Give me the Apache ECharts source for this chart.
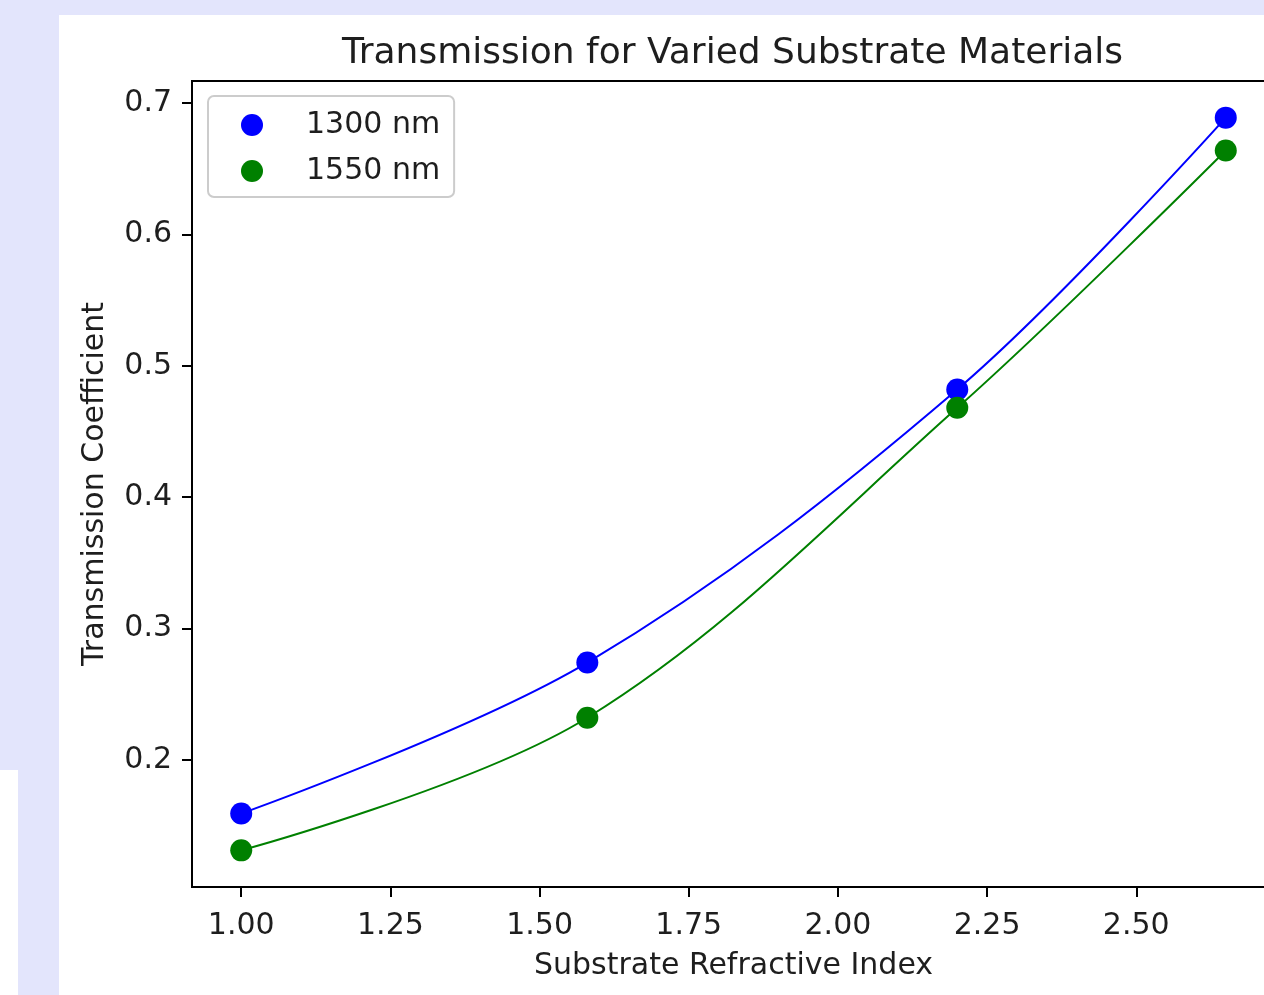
<!DOCTYPE html>
<html>
<head>
<meta charset="utf-8">
<script src="https://cdn.jsdelivr.net/npm/echarts@6/dist/echarts.min.js"></script>
<style>
  html, body { margin: 0; padding: 0; width: 1264px; height: 995px; overflow: hidden; background: #e3e5fc; }
  #patch { position: absolute; left: 0; top: 770px; width: 18px; height: 225px; background: #ffffff; }
  #chart { position: absolute; left: 59px; top: 15px; width: 1231px; height: 980px; background: #ffffff; }
</style>
</head>
<body>
<div id="patch"></div>
<div id="chart"></div>
<script>
const titleText = 'Transmission for Varied Substrate Materials';
const xLabel = 'Substrate Refractive Index';
const yLabel = 'Transmission Coefficient';
const refractiveIndex = [1.00, 1.58, 2.20, 2.65];
const seriesNames = ['1300 nm', '1550 nm'];
const trans1300 = [0.159, 0.274, 0.482, 0.689];
const trans1550 = [0.131, 0.232, 0.468, 0.664];
const xTicks = [1.00, 1.25, 1.50, 1.75, 2.00, 2.25, 2.50];
const yTicks = [0.2, 0.3, 0.4, 0.5, 0.6, 0.7];
const colors = ['#0000ff', '#008000'];

const font = 'DejaVu Sans';
const pairs = (ys) => refractiveIndex.map((x, i) => [x, ys[i]]);
const allY = trans1300.concat(trans1550);
const xMin = Math.min(...refractiveIndex), xMax = Math.max(...refractiveIndex);
const yMin = Math.min(...allY), yMax = Math.max(...allY);
const xPad = (xMax - xMin) * 0.05, yPad = (yMax - yMin) * 0.05;

const chart = echarts.init(document.getElementById('chart'), null, { renderer: 'canvas' });
const dataSets = [trans1300, trans1550];
const series = [];
dataSets.forEach((ys, i) => {
  series.push({
    name: seriesNames[i] + ' curve', type: 'line', data: pairs(ys), smooth: 0.35,
    showSymbol: false, lineStyle: { color: colors[i], width: 2 }, z: 2, silent: true
  });
});
dataSets.forEach((ys, i) => {
  series.push({
    name: seriesNames[i], type: 'scatter', data: pairs(ys), symbol: 'circle', symbolSize: 22,
    itemStyle: { color: colors[i], opacity: 1 }, z: 3
  });
});

chart.setOption({
  animation: false,
  backgroundColor: '#ffffff',
  title: {
    text: titleText, left: 278, top: 16,
    textStyle: { fontFamily: font, fontSize: 36, fontWeight: 'normal', color: '#1e1e1e' }
  },
  legend: {
    data: seriesNames, orient: 'vertical', left: 149, top: 81,
    icon: 'circle', itemWidth: 22, itemHeight: 22, itemGap: 16,
    padding: [14, 14, 11, 33],
    backgroundColor: '#ffffff', borderColor: '#cccccc', borderWidth: 2, borderRadius: 6,
    textStyle: { fontFamily: font, fontSize: 30, color: '#1e1e1e', padding: [0, 0, 0, 38] }
  },
  grid: {
    left: 133, top: 66, width: 1083, height: 806, show: true,
    borderColor: '#000', borderWidth: 2, backgroundColor: 'transparent'
  },
  xAxis: {
    type: 'value', min: xMin - xPad, max: xMax + xPad,
    name: xLabel, nameLocation: 'middle', nameGap: 64,
    nameTextStyle: { fontFamily: font, fontSize: 30, color: '#1e1e1e' },
    axisLine: { show: true, lineStyle: { color: '#000', width: 2 } },
    axisTick: { show: true, inside: false, length: 10, lineStyle: { color: '#000', width: 2 }, customValues: xTicks },
    axisLabel: { customValues: xTicks, margin: 24, fontFamily: font, fontSize: 30, color: '#1e1e1e',
      formatter: (v) => v.toFixed(2) },
    splitLine: { show: false }
  },
  yAxis: {
    type: 'value', min: yMin - yPad, max: yMax + yPad,
    name: yLabel, nameLocation: 'middle', nameGap: 82,
    nameTextStyle: { fontFamily: font, fontSize: 30, color: '#1e1e1e' },
    axisLine: { show: true, lineStyle: { color: '#000', width: 2 } },
    axisTick: { show: true, inside: false, length: 10, lineStyle: { color: '#000', width: 2 }, customValues: yTicks },
    axisLabel: { customValues: yTicks, margin: 20, fontFamily: font, fontSize: 30, color: '#1e1e1e',
      formatter: (v) => v.toFixed(1) },
    splitLine: { show: false }
  },
  series: series
});
</script>
</body>
</html>
